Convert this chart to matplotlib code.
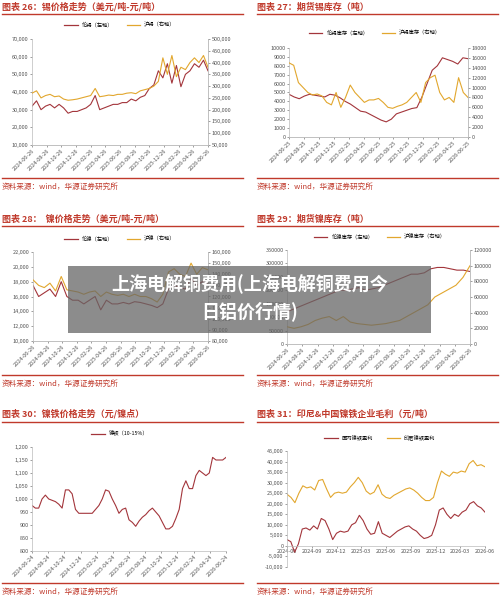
import numpy as np
import matplotlib
matplotlib.use("Agg")
import matplotlib.pyplot as plt
from matplotlib.patches import Rectangle
from matplotlib.lines import Line2D

plt.rcParams['font.family'] = ['Noto Sans CJK SC', 'DejaVu Sans']
RED = '#A3353B'; GOLD = '#E2A72E'; TRED = '#C0392B'

# ---------------- data ----------------
dates_26 = ['2024-06-26','2024-08-26','2024-10-26','2024-12-26','2025-02-26','2025-04-26','2025-06-26',
            '2025-08-26','2025-10-26','2025-12-26','2026-02-26','2026-04-26','2026-06-26']
dates_25 = [d[:-2] + '25' for d in dates_26]
dates_24 = [d[:-2] + '24' for d in dates_26]
dates_6 = ['2024-06','2024-09','2024-12','2025-03','2025-06','2025-09','2025-12','2026-03','2026-06']

tin_lme = [32000,35000,30000,32000,33000,31000,33000,31000,28000,29000,29000,30000,31000,33000,38000,30000,31000,
           32000,33000,33000,34000,34000,36000,35000,37000,38000,42000,44000,52000,48000,56000,45000,55000,43000,
           50000,52000,56000,54000,58000,52000]
tin_shfe = [270000,280000,250000,260000,265000,255000,258000,245000,240000,242000,245000,250000,255000,260000,
            290000,255000,258000,262000,260000,265000,265000,270000,272000,268000,280000,285000,290000,300000,
            320000,420000,350000,430000,340000,380000,370000,400000,420000,400000,430000,380000]

tinstk_lme = [4800,4500,4300,4600,4800,4700,4600,4500,4800,4700,4400,4000,3700,3300,2900,2800,2500,2200,1900,
              1700,2000,2600,2800,3000,3200,3300,4500,6000,7500,8000,8900,8700,8500,8200,8900,8800]
tinstk_shfe = [15000,14500,11000,10000,9000,8500,8700,8300,7000,6500,9000,6000,8000,10500,9000,8000,7000,7500,
               7500,7800,7000,6000,5800,6200,6500,7000,8000,9000,7000,11000,12000,12500,9000,7500,8000,7000,
               12000,9000,8000]

ni_lme = [17500,16000,16500,17000,16000,18000,16000,15500,15500,15000,15500,16000,14200,15500,15000,15000,15200,
          15000,15300,15200,15000,14800,14500,15000,17000,17500,17200,17000,18500,17500,18000,17800]
ni_shfe = [135000,130000,128000,132000,125000,138000,126000,125000,124000,122000,124000,125000,120000,124000,
           122000,121000,122000,120000,122000,120000,120000,118000,115000,122000,142000,145000,140000,138000,
           150000,140000,146000,144000]

nistk_lme = [120000,130000,140000,150000,160000,170000,180000,190000,200000,200000,205000,210000,200000,205000,
             210000,220000,230000,240000,250000,260000,260000,265000,280000,285000,285000,280000,275000,275000,270000]
nistk_shfe = [22000,20000,22000,25000,30000,33000,35000,30000,35000,28000,26000,25000,24000,25000,26000,28000,
              30000,35000,40000,45000,50000,60000,65000,70000,75000,85000,100000]

npi = [975,965,965,1000,1015,1000,995,990,980,965,1035,1035,1020,960,945,945,945,945,945,960,975,1000,1035,1030,
       1000,975,945,960,965,920,910,895,915,930,940,955,965,950,935,910,885,885,895,925,960,1040,1070,1040,1040,
       1090,1110,1100,1090,1100,1160,1150,1150,1150,1160]

gm_cn = [3000,2000,-3000,1000,8000,8500,7500,9500,8000,13000,12000,8000,3000,6000,7000,6500,7000,10000,11000,
         14500,12000,8000,5500,6000,11500,6000,5000,4000,5500,7000,8000,9000,9500,8000,7000,5000,3500,4000,5000,
         10000,17000,18000,15000,13000,15000,14000,16000,17000,20000,21000,19000,18000,16000]
gm_id = [24500,23000,20500,25000,28500,27500,28000,26500,31000,31500,27000,23000,25000,25500,25000,25500,28000,
         30000,32500,30000,26000,24500,25500,29000,24500,23000,22500,24000,25000,26000,27000,27500,26500,25000,
         23000,21500,21500,23000,30000,35500,34000,33000,35000,34500,35500,35000,39000,40500,38000,38500,37500]

W, H = 500, 600
fig = plt.figure(figsize=(5, 6), dpi=100)
fig.patch.set_facecolor('white')

def ax_px(x0, y0, x1, y1):
    return fig.add_axes([x0 / W, 1 - y1 / H, (x1 - x0) / W, (y1 - y0) / H])

def header(x0, x1, ytitle, yline, text):
    fig.text(x0 / W, 1 - ytitle / H, text, color=TRED, fontsize=6.5, fontweight='bold', va='center')
    fig.add_artist(Line2D([x0 / W, x1 / W], [1 - yline / H] * 2, color=TRED, lw=1.0))

def footer(x0, x1, yline, ytext):
    fig.add_artist(Line2D([x0 / W, x1 / W], [1 - yline / H] * 2, color=TRED, lw=1.0))
    fig.text(x0 / W, 1 - ytext / H, '资料来源：wind，华源证券研究所', color=TRED, fontsize=5.5, va='center')

def style(ax):
    for s in ax.spines.values():
        s.set_color('#BBBBBB'); s.set_linewidth(0.5)
    ax.spines['top'].set_visible(False)
    ax.tick_params(labelsize=4, length=1.5, width=0.4, colors='#555555', pad=1)

def xs(vals, span):
    return np.linspace(0, span, len(vals))

def dual(box, left, right, ll, rl, lticks, rticks, dates):
    ax = ax_px(*box)
    ax2 = ax.twinx()
    n = len(dates) - 1
    ax.plot(xs(left, n), left, color=RED, lw=0.8)
    ax2.plot(xs(right, n), right, color=GOLD, lw=0.8)
    ax.set_xlim(0, n)
    ax.set_ylim(lticks[0], lticks[-1]); ax.set_yticks(lticks)
    ax2.set_ylim(rticks[0], rticks[-1]); ax2.set_yticks(rticks)
    ax.set_yticklabels([f'{v:,.0f}' if ll else f'{v:.0f}' for v in lticks])
    ax2.set_yticklabels([f'{v:,.0f}' if rl else f'{v:.0f}' for v in rticks])
    ax.set_xticks(range(len(dates)))
    ax.set_xticklabels(dates, rotation=45, ha='right', rotation_mode='anchor')
    style(ax); style(ax2)
    ax2.spines['left'].set_visible(False)
    return ax, ax2

def legend(xc, y, items):
    fig.legend([Line2D([], [], color=c, lw=0.9) for c, _ in items], [t for _, t in items],
               loc='center', bbox_to_anchor=(xc / W, 1 - y / H), ncol=len(items), frameon=False,
               fontsize=3.8, handlelength=2.5, columnspacing=2.5)

header(2, 243, 7, 14, '图表 26：锡价格走势（美元/吨-元/吨）')
legend(120, 25, [(RED, '伦锡（左轴）'), (GOLD, '沪锡（右轴）')])
dual((32, 39, 208, 145), tin_lme, tin_shfe, True, True, list(range(10000, 70001, 10000)),
     list(range(50000, 500001, 50000)), dates_26)
footer(2, 243, 178, 187)

header(257, 498, 7, 14, '图表 27：期货锡库存（吨）')
legend(375, 33, [(RED, '伦锡库存（左轴）'), (GOLD, '沪锡库存（右轴）')])
dual((289, 48, 468, 137), tinstk_lme, tinstk_shfe, False, False, list(range(0, 10001, 1000)),
     list(range(0, 18001, 2000)), dates_25)
footer(257, 498, 178, 187)

header(2, 243, 219, 226, '图表 28：  镍价格走势（美元/吨-元/吨）')
legend(120, 239, [(RED, '伦镍（左轴）'), (GOLD, '沪镍（右轴）')])
dual((33, 252, 208, 341), ni_lme, ni_shfe, True, True, list(range(10000, 22001, 2000)),
     list(range(80000, 160001, 10000)), dates_26)
footer(2, 243, 375, 384)

header(257, 498, 219, 226, '图表 29：期货镍库存（吨）')
legend(380, 237, [(RED, '伦镍库存（左轴）'), (GOLD, '沪镍库存（右轴）')])
dual((287, 250, 470, 344), nistk_lme, nistk_shfe, False, False, list(range(0, 350001, 50000)),
     list(range(0, 120001, 20000)), dates_26)
footer(257, 498, 375, 384)

header(2, 243, 414, 422, '图表 30：镍铁价格走势（元/镍点）')
fig.legend([Line2D([], [], color=RED, lw=0.9)], ['镍铁（10-15%）'], loc='center',
           bbox_to_anchor=(120 / W, 1 - 434 / H), frameon=False, fontsize=3.8, handlelength=2.5)
ax = ax_px(32, 447, 226, 551)
n = len(dates_24) - 1
ax.plot(xs(npi, n), npi, color=RED, lw=0.8)
ax.set_xlim(0, n); ax.set_ylim(800, 1200)
ax.set_yticks(range(800, 1201, 50)); ax.set_yticklabels([f'{v:,}' for v in range(800, 1201, 50)])
ax.set_xticks(range(len(dates_24)))
ax.set_xticklabels(dates_24, rotation=45, ha='right', rotation_mode='anchor')
style(ax); ax.spines['right'].set_visible(False)
footer(2, 243, 583, 592)

header(257, 498, 414, 422, '图表 31：印尼&中国镍铁企业毛利（元/吨）')
legend(380, 438, [(RED, '国内镍铁盈利'), (GOLD, '印尼镍铁盈利')])
ax = ax_px(287, 451, 485, 567)
n = len(dates_6) - 1
ax.plot(xs(gm_cn, n), gm_cn, color=RED, lw=0.8)
ax.plot(xs(gm_id, n), gm_id, color=GOLD, lw=0.8)
ax.set_xlim(0, n); ax.set_ylim(-10000, 45000)
yt = list(range(-10000, 45001, 5000))
ax.set_yticks(yt); ax.set_yticklabels([f'{v:,}' for v in yt])
ax.spines['bottom'].set_position(('data', 0))
ax.set_xticks(range(len(dates_6))); ax.set_xticklabels(dates_6)
style(ax); ax.spines['right'].set_visible(False)
footer(257, 498, 583, 592)

fig.add_artist(Rectangle((68 / W, 1 - 333 / H), (431 - 68) / W, (333 - 266) / H,
                         transform=fig.transFigure, facecolor='#666666', alpha=0.75, edgecolor='none', zorder=10))
fig.text(250 / W, 1 - 284 / H, '上海电解铜费用(上海电解铜费用今', color='white', fontsize=13,
         fontweight='bold', ha='center', va='center', zorder=11)
fig.text(250 / W, 1 - 311 / H, '日铝价行情)', color='white', fontsize=13,
         fontweight='bold', ha='center', va='center', zorder=11)

fig.savefig('out.png', dpi=100)
